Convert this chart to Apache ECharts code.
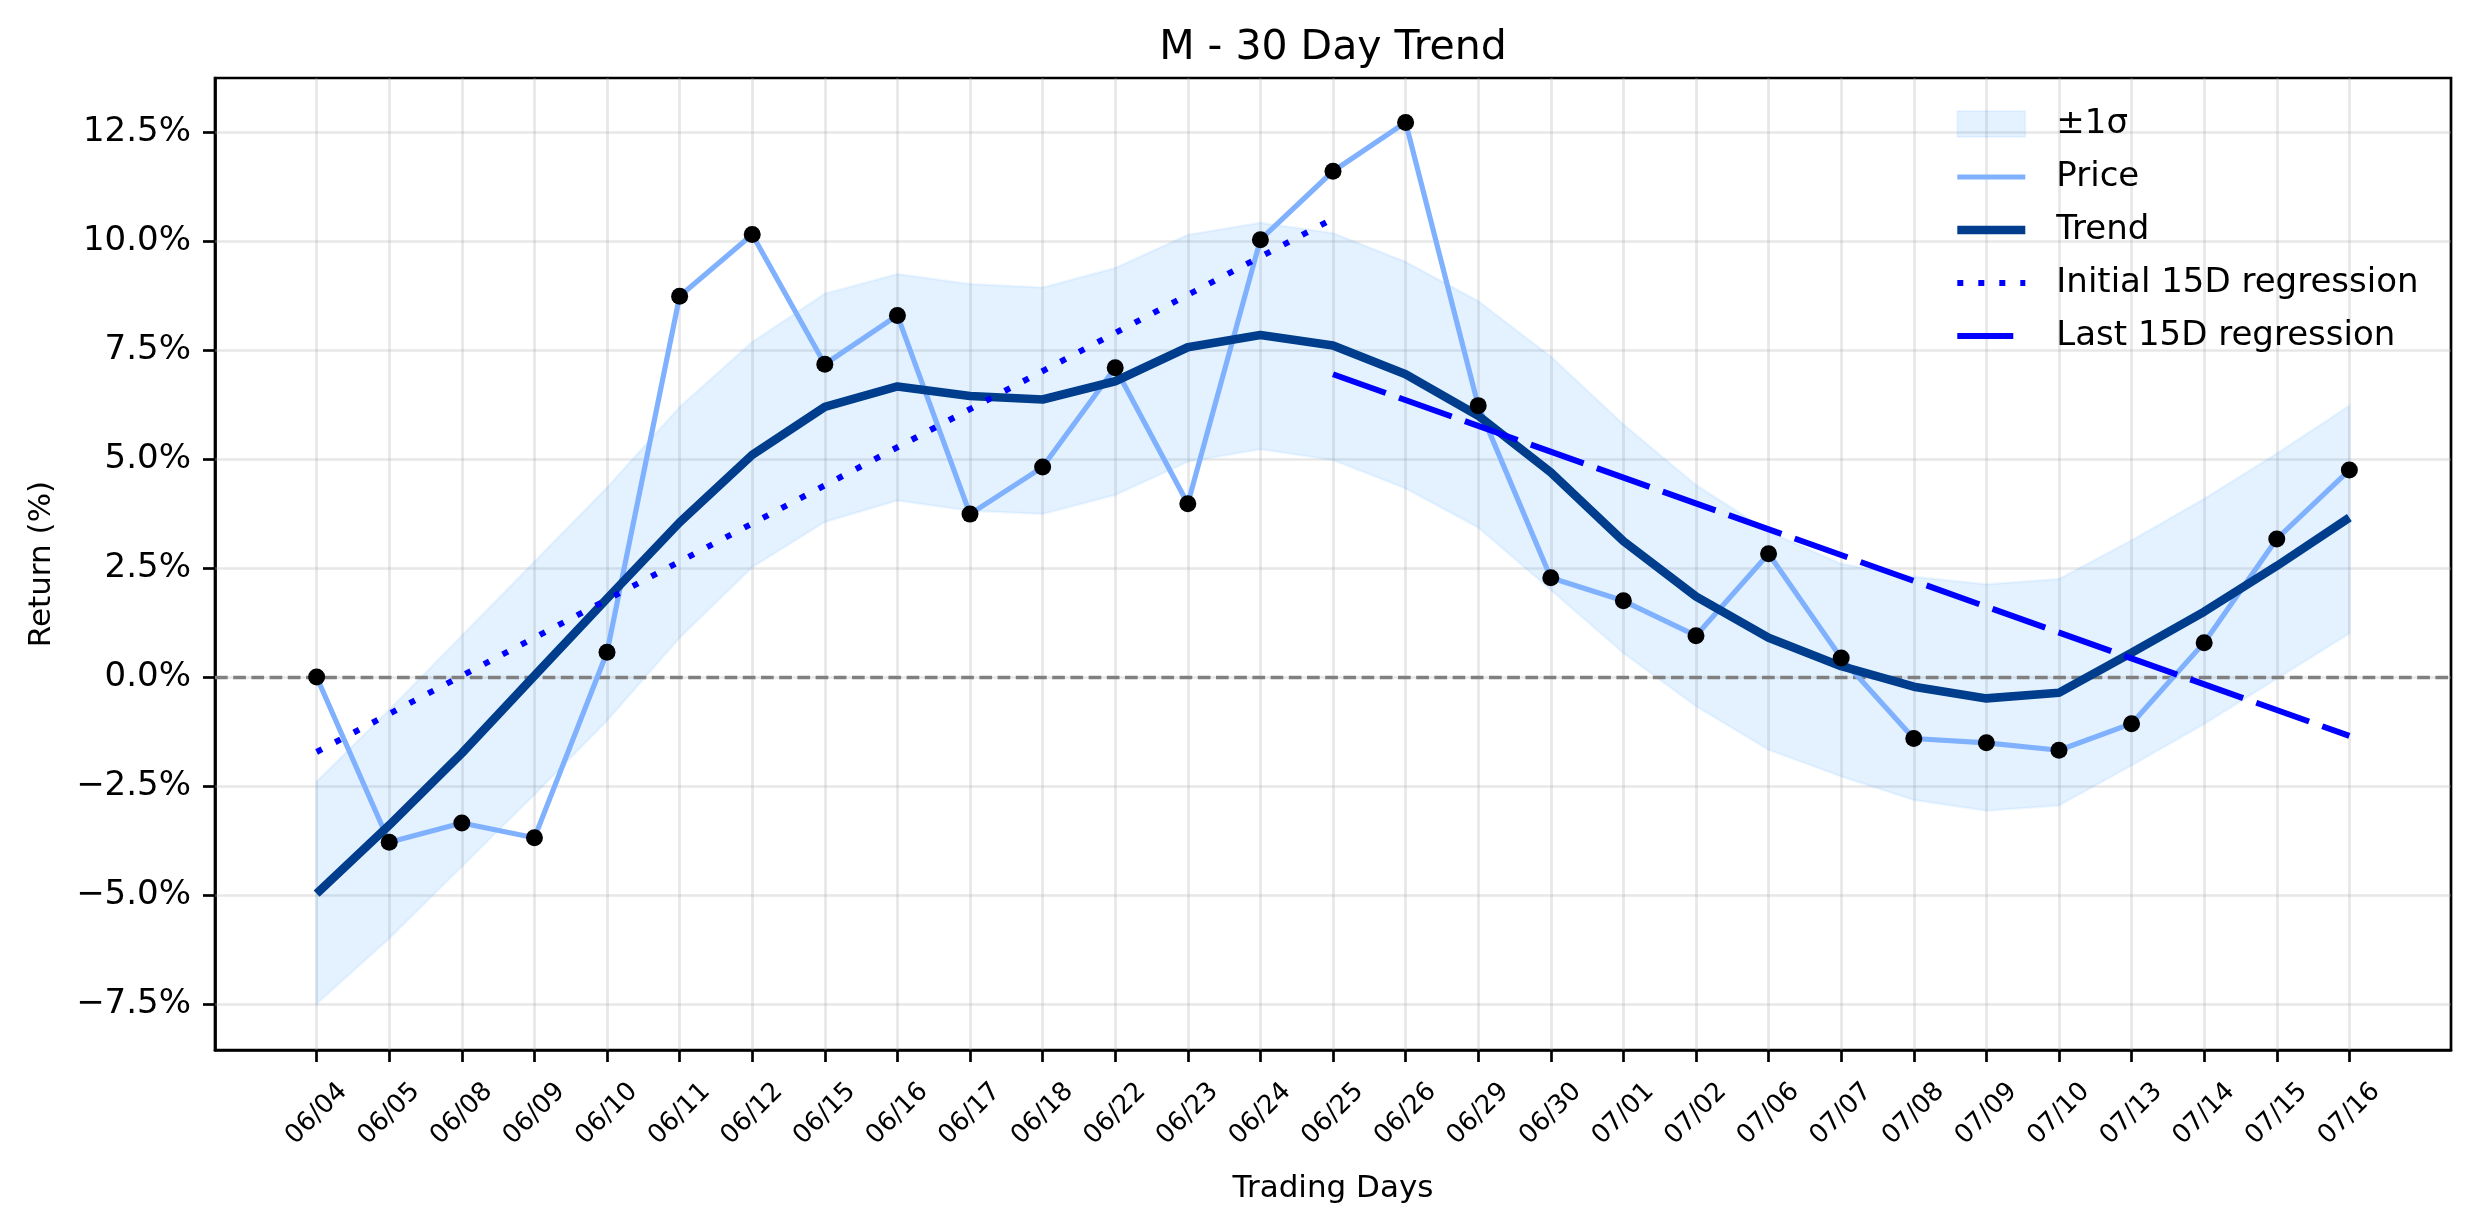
<!DOCTYPE html>
<html>
<head>
<meta charset="utf-8">
<script src="https://cdn.jsdelivr.net/npm/echarts@6/dist/echarts.min.js"></script>
<style>
  html, body { margin: 0; padding: 0; background: #fff; }
  #main { width: 2474px; height: 1224px; }
</style>
</head>
<body>
<div id="main"></div>
<script>
// trading days on the x axis
var dates = ['06/04', '06/05', '06/08', '06/09', '06/10', '06/11', '06/12', '06/15', '06/16', '06/17',
    '06/18', '06/22', '06/23', '06/24', '06/25', '06/26', '06/29', '06/30', '07/01', '07/02',
    '07/06', '07/07', '07/08', '07/09', '07/10', '07/13', '07/14', '07/15', '07/16'];

// cumulative return (%) per day
var price = [0.00, -3.79, -3.35, -3.69, 0.57, 8.74, 10.16, 7.18, 8.30, 3.74,
    4.82, 7.10, 3.98, 10.04, 11.61, 12.73, 6.23, 2.28, 1.75, 0.95,
    2.83, 0.44, -1.41, -1.51, -1.68, -1.07, 0.79, 3.17, 4.75];

// smoothed trend
var trend = [-4.97, -3.40, -1.75, 0.03, 1.80, 3.55, 5.10, 6.20, 6.67, 6.45,
    6.37, 6.79, 7.57, 7.85, 7.61, 6.95, 6.00, 4.70, 3.12, 1.85,
    0.90, 0.25, -0.22, -0.49, -0.36, 0.56, 1.50, 2.55, 3.66];

// +/- 1 sigma band around the trend
var bandUpper = [-2.40, -0.75, 0.95, 2.65, 4.35, 6.20, 7.69, 8.80, 9.25, 9.02,
    8.94, 9.39, 10.15, 10.43, 10.19, 9.53, 8.63, 7.36, 5.80, 4.41,
    3.34, 2.60, 2.30, 2.13, 2.25, 3.14, 4.09, 5.13, 6.23];
var bandLower = [-7.50, -6.00, -4.35, -2.70, -1.00, 0.90, 2.52, 3.56, 4.05, 3.82,
    3.74, 4.18, 4.94, 5.23, 4.98, 4.33, 3.43, 2.00, 0.55, -0.67,
    -1.67, -2.28, -2.82, -3.07, -2.95, -2.03, -1.08, -0.04, 1.00];

// regression lines: [start value, end value] and the day index range they cover
var initialReg = [-1.72, 10.52];
var initialRegDays = [0, 14];
var lastReg = [6.95, -1.35];
var lastRegDays = [14, 28];

var yTicks = [-7.5, -5, -2.5, 0, 2.5, 5, 7.5, 10, 12.5];
var xTicks = dates.map(function(d, i) { return i; });

function pairs(arr) {
    return arr.map(function(v, i) { return [i, v]; });
}

var font = 'DejaVu Sans';
var black = '#000';
var axisLine = { color: black, width: 2.7 };
var bandFill = 'rgba(30,144,255,0.12)';
var bandEdge = 'rgba(30,144,255,0.07)';

var myChart = echarts.init(document.getElementById('main'));

var gridLines = xTicks.map(function(i) { return { xAxis: i }; })
    .concat(yTicks.map(function(v) { return { yAxis: v }; }));

// line-only legend entries (hide the symbol ECharts adds to line icons)
function lineItem(name) {
    return { name: name, itemStyle: { opacity: 0 } };
}

option = {
    animation: false,
    backgroundColor: '#fff',
    textStyle: { fontFamily: font },
    title: {
        text: 'M - 30 Day Trend',
        left: 1333,
        top: 28,
        textAlign: 'center',
        padding: 0,
        textStyle: { fontSize: 41, fontWeight: 'normal', color: black, fontFamily: font }
    },
    legend: {
        orient: 'vertical',
        left: 1953,
        top: 107,
        padding: 0,
        itemGap: 19,
        itemWidth: 68,
        itemHeight: 26,
        selectedMode: false,
        lineStyle: { width: 'inherit' },
        textStyle: { fontSize: 34, color: black, fontFamily: font, padding: [0, 0, 0, 26] },
        data: [
            { name: '±1σ', icon: 'rect', itemStyle: { color: bandFill, borderColor: bandEdge, borderWidth: 2 } },
            lineItem('Price'),
            lineItem('Trend'),
            lineItem('Initial 15D regression'),
            lineItem('Last 15D regression')
        ]
    },
    grid: {
        left: 215, right: 23, top: 78, bottom: 174,
        show: true, borderColor: black, borderWidth: 2.7
    },
    xAxis: {
        type: 'value',
        min: -1.4,
        max: 29.4,
        name: 'Trading Days',
        nameLocation: 'middle',
        nameGap: 123,
        nameTextStyle: { fontSize: 31, color: black, fontFamily: font },
        axisLine: { show: true, onZero: false, lineStyle: axisLine },
        axisTick: { show: true, customValues: xTicks, length: 12, lineStyle: axisLine },
        axisLabel: {
            customValues: xTicks,
            rotate: 45,
            align: 'center',
            verticalAlign: 'middle',
            margin: 64,
            fontSize: 26,
            color: black,
            fontFamily: font,
            formatter: function(v) { return dates[Math.round(v)]; }
        },
        splitLine: { show: false }
    },
    yAxis: {
        type: 'value',
        min: -8.56,
        max: 13.75,
        name: 'Return (%)',
        nameLocation: 'middle',
        nameGap: 158,
        nameTextStyle: { fontSize: 31, color: black, fontFamily: font },
        axisLine: { show: true, onZero: false, lineStyle: axisLine },
        axisTick: { show: true, customValues: yTicks, length: 12, lineStyle: axisLine },
        axisLabel: {
            customValues: yTicks,
            margin: 24,
            fontSize: 34,
            color: black,
            fontFamily: font,
            formatter: function(v) {
                return (v < 0 ? '\u2212' : '') + Math.abs(v).toFixed(1) + '%';
            }
        },
        splitLine: { show: false }
    },
    series: [
        {
            // sigma band as one polygon: upper edge forward, lower edge back
            name: '±1σ',
            type: 'custom',
            data: pairs(bandUpper),
            silent: true,
            z: 2,
            renderItem: function(params, api) {
                if (params.dataIndex !== 0) return null;
                var pts = [];
                for (var i = 0; i < bandUpper.length; i++) pts.push(api.coord([i, bandUpper[i]]));
                for (var j = bandLower.length - 1; j >= 0; j--) pts.push(api.coord([j, bandLower[j]]));
                return {
                    type: 'polygon',
                    shape: { points: pts },
                    style: { fill: bandFill, stroke: bandEdge, lineWidth: 2.5 }
                };
            },
            markLine: {
                z: 1,
                silent: true,
                symbol: 'none',
                animation: false,
                label: { show: false },
                lineStyle: { color: 'rgba(176,176,176,0.3)', width: 2.7, type: 'solid' },
                data: gridLines
            }
        },
        {
            name: 'Price',
            type: 'line',
            data: pairs(price),
            symbol: 'none',
            z: 4,
            color: '#80b1ff',
            lineStyle: { color: '#80b1ff', width: 5.2 },
            markLine: {
                z: 3,
                silent: true,
                symbol: 'none',
                animation: false,
                label: { show: false },
                lineStyle: { color: '#808080', width: 3.4, type: [12.7, 5.5] },
                data: [{ yAxis: 0 }]
            }
        },
        {
            name: 'Trend',
            type: 'line',
            data: pairs(trend),
            symbol: 'none',
            z: 5,
            color: '#003d8c',
            lineStyle: { color: '#003d8c', width: 8.6 }
        },
        {
            name: 'Initial 15D regression',
            type: 'line',
            data: [[initialRegDays[0], initialReg[0]], [initialRegDays[1], initialReg[1]]],
            symbol: 'none',
            z: 6,
            color: '#0000ff',
            lineStyle: { color: '#0000ff', width: 6, type: [6, 15], cap: 'butt' }
        },
        {
            name: 'Last 15D regression',
            type: 'line',
            data: [[lastRegDays[0], lastReg[0]], [lastRegDays[1], lastReg[1]]],
            symbol: 'none',
            z: 6,
            color: '#0000ff',
            lineStyle: { color: '#0000ff', width: 6, type: [56, 14], cap: 'butt' }
        },
        {
            name: 'points',
            type: 'scatter',
            data: pairs(price),
            symbolSize: 17,
            z: 7,
            itemStyle: { color: black, opacity: 1 }
        }
    ]
};

myChart.setOption(option);
</script>
</body>
</html>
